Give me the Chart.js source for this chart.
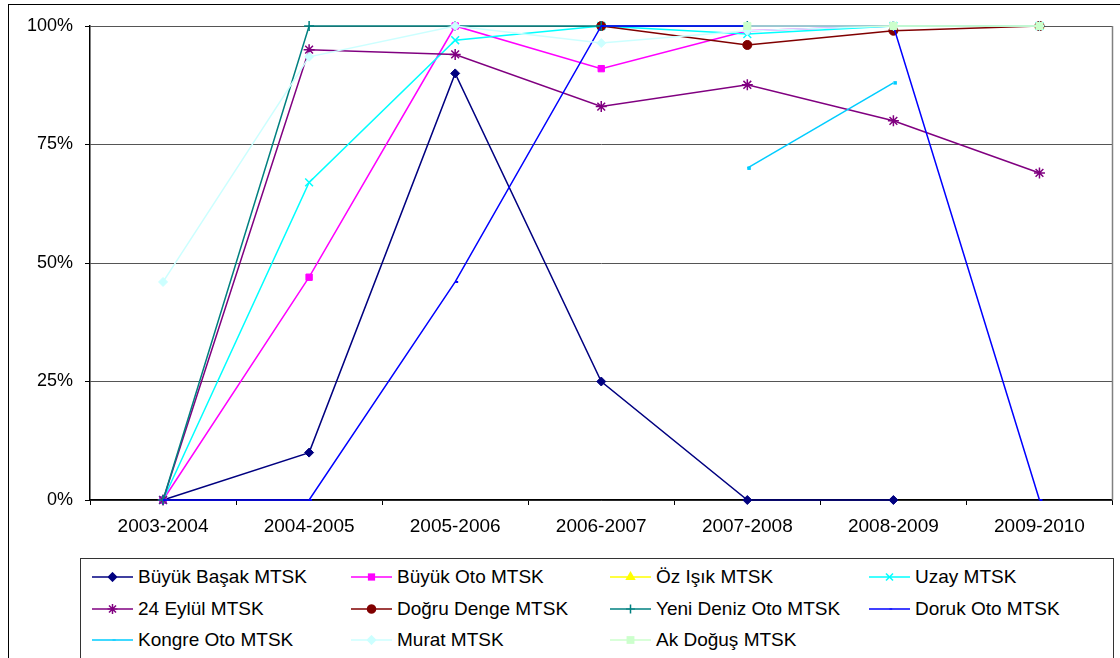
<!DOCTYPE html>
<html>
<head>
<meta charset="utf-8">
<script src="https://cdn.jsdelivr.net/npm/chart.js@4.4.1/dist/chart.umd.min.js"></script>
<style>
  body { margin: 0; background: #fff; font-family: 'Liberation Sans', Arial, sans-serif; }
  #wrap { position: relative; width: 1120px; height: 658px; overflow: hidden; }
  #frame { position: absolute; left: 8px; top: 4px; width: 1130px; height: 700px; border: 1.5px solid #000; }
  #chartBox { position: absolute; left: 0; top: 0; width: 1120px; height: 550px; }
  #legend { position: absolute; left: 80px; top: 558px; width: 1032px; height: 120px; border: 1px solid #333; background: #fff; }
  .item { position: absolute; height: 24px; display: flex; align-items: center; font-size: 19px; color: #000; white-space: nowrap; }
  .item canvas { width: 42px; height: 20px; margin-right: 4px; }
</style>
</head>
<body>
<div id="wrap">
  <div id="frame"></div>
  <div id="chartBox"><canvas id="chart"></canvas></div>
  <div id="legend"></div>
</div>
<script>
// kategoriler
const years = ['2003-2004', '2004-2005', '2005-2006', '2006-2007', '2007-2008', '2008-2009', '2009-2010']

// seriler (%)
const buyukBasak = [0, 10, 90, 25, 0, 0, null]
const buyukOto = [0, 47, 100, 91, 99, 100, 100]
const ozIsik = [null, null, null, null, null, null, 100]
const uzay = [0, 67, 97, 100, 98.3, 100, 100]
const eylul24 = [0, 95, 94, 83, 87.6, 80, 69]
const dogruDenge = [null, null, null, 100, 96, 99, 100]
const yeniDeniz = [0, 100, 100, 100, 100, 100, 100]
const dorukOto = [0, 0, 46, 100, 100, 100, 0]
const kongreOto = [null, null, null, null, 70, 88, null]
const murat = [46, 93.5, 100, 96.4, 99, 100, 100]
const akDogus = [null, null, null, null, 100, 100, 100]

const yTicks = [0, 25, 50, 75, 100]

const series = [
  { label: 'Büyük Başak MTSK', data: buyukBasak, color: '#000080', style: 'rectRot', r: 4.5, bw: 1 },
  { label: 'Büyük Oto MTSK', data: buyukOto, color: '#FF00FF', style: 'rect', r: 4.5, bw: 1 },
  { label: 'Öz Işık MTSK', data: ozIsik, color: '#FFFF00', style: 'triangle', r: 5, bw: 1 },
  { label: 'Uzay MTSK', data: uzay, color: '#00FFFF', style: 'crossRot', r: 5.5, bw: 1.5 },
  { label: '24 Eylül MTSK', data: eylul24, color: '#800080', style: 'star', r: 5.5, bw: 1.5 },
  { label: 'Doğru Denge MTSK', data: dogruDenge, color: '#800000', style: 'circle', r: 4.5, bw: 1 },
  { label: 'Yeni Deniz Oto MTSK', data: yeniDeniz, color: '#008080', style: 'cross', r: 5, bw: 1.5 },
  { label: 'Doruk Oto MTSK', data: dorukOto, color: '#0000FF', style: 'dash', r: 3, bw: 2 },
  { label: 'Kongre Oto MTSK', data: kongreOto, color: '#00CCFF', style: 'dash', r: 3.5, bw: 3.5 },
  { label: 'Murat MTSK', data: murat, color: '#CCFFFF', style: 'rectRot', r: 4.5, bw: 1 },
  { label: 'Ak Doğuş MTSK', data: akDogus, color: '#CCFFCC', style: 'rect', r: 5, bw: 1 },
]

const fontX = { family: "'Liberation Sans', Arial, sans-serif", size: 19 }
const fontY = { family: "'Liberation Sans', Arial, sans-serif", size: 18 }

// sağ çerçeve çizgisi
const plotBorder = {
  id: 'plotBorder',
  afterDraw(chart) {
    const a = chart.chartArea
    const ctx = chart.ctx
    ctx.save()
    ctx.strokeStyle = '#808080'
    ctx.lineWidth = 1.5
    ctx.beginPath()
    ctx.moveTo(a.right, a.top)
    ctx.lineTo(a.right, a.bottom)
    ctx.stroke()
    ctx.restore()
  },
}

const ctx = document.getElementById('chart').getContext('2d')
new Chart(ctx, {
  type: 'line',
  data: {
    labels: years,
    datasets: series.map((s, i) => ({
      label: s.label,
      data: s.data,
      borderColor: s.color,
      backgroundColor: s.color,
      borderWidth: 1.5,
      pointStyle: s.style,
      pointRadius: s.r,
      pointBorderWidth: s.bw,
      pointBorderColor: s.color,
      pointBackgroundColor: s.color,
      tension: 0,
      clip: false,
      order: -i, // Excel gibi: sonraki seri üstte
    })),
  },
  options: {
    responsive: true,
    maintainAspectRatio: false,
    animation: false,
    layout: { padding: { top: 26, right: 6, left: 0, bottom: 0 } },
    plugins: {
      legend: { display: false },
      tooltip: { enabled: false },
    },
    scales: {
      x: {
        offset: true,
        grid: { offset: true, drawOnChartArea: false, drawTicks: true, tickLength: 5, tickColor: '#000' },
        border: { color: '#000', width: 1.5 },
        ticks: { color: '#000', font: fontX, padding: 10, maxRotation: 0 },
        afterFit: (s) => { s.height = 50 },
      },
      y: {
        min: 0,
        max: 100,
        afterBuildTicks: (s) => { s.ticks = yTicks.map((v) => ({ value: v })) },
        grid: { color: '#555', lineWidth: 1, drawTicks: true, tickLength: 5, tickColor: '#000' },
        border: { color: '#000', width: 1.5 },
        ticks: { color: '#000', font: fontY, padding: 12, callback: (v) => v + '%' },
        afterFit: (s) => { s.width = 90 },
      },
    },
  },
  plugins: [plotBorder],
})

// lejant (4 sütun)
const legend = document.getElementById('legend')
series.forEach((s, i) => {
  const col = i % 4
  const row = Math.floor(i / 4)
  const item = document.createElement('div')
  item.className = 'item'
  item.style.left = (11 + col * 259) + 'px'
  item.style.top = (6 + row * 31.5) + 'px'
  const c = document.createElement('canvas')
  c.width = 84
  c.height = 40
  const g = c.getContext('2d')
  g.scale(2, 2)
  g.strokeStyle = s.color
  g.fillStyle = s.color
  g.lineWidth = 1.5
  g.beginPath()
  g.moveTo(0, 10)
  g.lineTo(41, 10)
  g.stroke()
  Chart.helpers.drawPoint(g, { pointStyle: s.style, radius: s.r * 0.9, rotation: 0, borderWidth: s.bw }, 20.5, 10)
  item.appendChild(c)
  const t = document.createElement('span')
  t.textContent = s.label
  item.appendChild(t)
  legend.appendChild(item)
})
</script>
</body>
</html>
